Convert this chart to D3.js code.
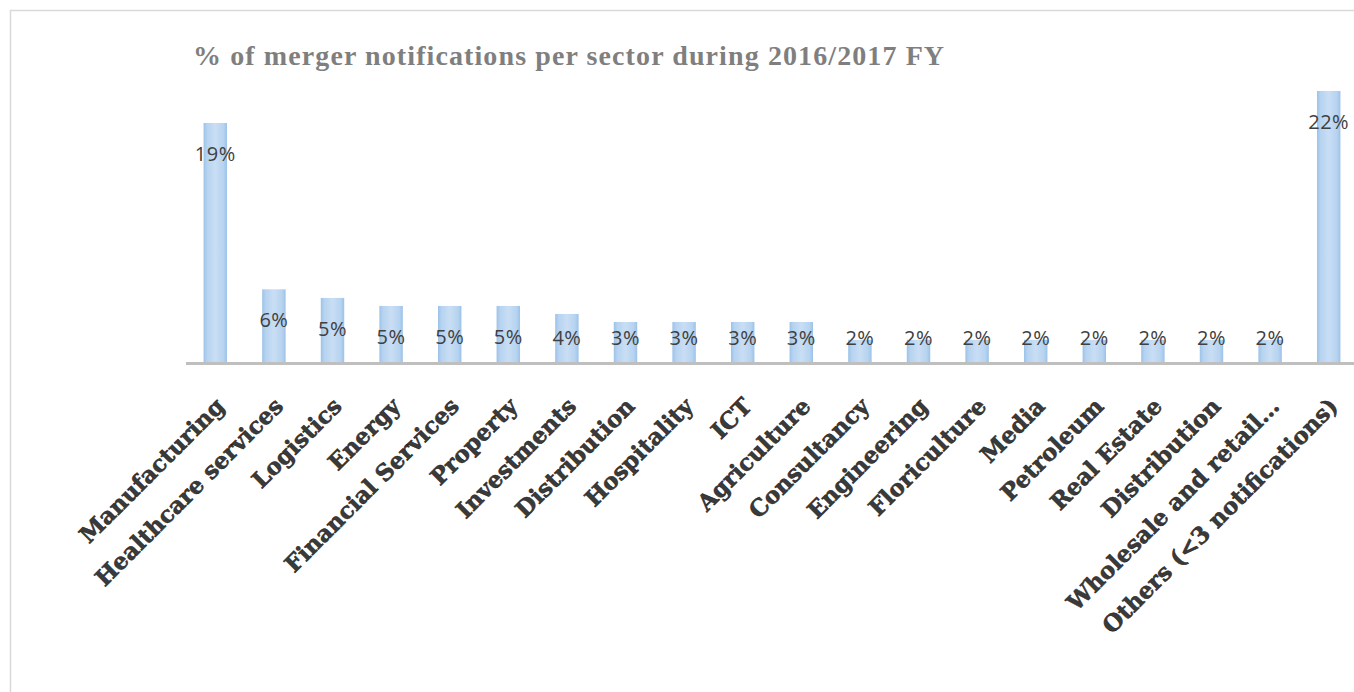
<!DOCTYPE html>
<html>
<head>
<meta charset="utf-8">
<script src="https://cdn.jsdelivr.net/npm/d3@7"></script>
<style>
    html, body { margin: 0; padding: 0; background: #fff; }
    svg { display: block; }
</style>
</head>
<body>
<div id="chart"></div>
<script>
// data
var categories = ['Manufacturing', 'Healthcare services', 'Logistics', 'Energy', 'Financial Services',
    'Property', 'Investments', 'Distribution', 'Hospitality', 'ICT', 'Agriculture', 'Consultancy',
    'Engineering', 'Floriculture', 'Media', 'Petroleum', 'Real Estate', 'Distribution',
    'Wholesale and retail\u2026', 'Others (<3 notifications)'];
var shares = [19.4, 5.9, 5.2, 4.55, 4.55, 4.55, 3.9, 3.25, 3.25, 3.25, 3.25, 1.8,
    1.8, 1.8, 1.8, 1.8, 1.8, 1.8, 1.8, 22.0];
var title = '% of merger notifications per sector during 2016/2017 FY';

var width = 1354,
    height = 692,
    base = 362;

var svg = d3.select('#chart').append('svg')
    .attr('width', width)
    .attr('height', height);

// bar gradient
var grad = svg.append('defs').append('linearGradient')
    .attr('id', 'barFill')
    .attr('x1', '0%').attr('x2', '100%')
    .attr('y1', '0%').attr('y2', '0%');
grad.append('stop').attr('offset', '0%').attr('stop-color', '#9cc2e8');
grad.append('stop').attr('offset', '15%').attr('stop-color', '#b6d3f0');
grad.append('stop').attr('offset', '50%').attr('stop-color', '#c9def4');
grad.append('stop').attr('offset', '85%').attr('stop-color', '#b6d3f0');
grad.append('stop').attr('offset', '100%').attr('stop-color', '#9cc2e8');

// frame
svg.append('rect')
    .attr('x', 10.5).attr('y', 10.5)
    .attr('width', 1400).attr('height', 700)
    .attr('fill', 'none')
    .attr('stroke', '#d9d9d9')
    .attr('stroke-width', 1.5);

svg.append('text')
    .attr('x', 193)
    .attr('y', 65)
    .attr('fill', '#7f7f7f')
    .style('font-family', '"Liberation Serif", serif')
    .style('font-weight', 'bold')
    .style('font-size', '28px')
    .style('letter-spacing', '1.1px')
    .text(title);

var x = d3.scaleBand()
    .domain(d3.range(categories.length))
    .range([186, 1358])
    .paddingInner(0.6)
    .paddingOuter(0.3);

var y = d3.scaleLinear()
    .domain([0, 25])
    .range([base, base - 25 * 12.32]);

svg.selectAll('.bar')
    .data(shares)
    .enter().append('rect')
    .attr('class', 'bar')
    .attr('x', function(d, i) { return x(i); })
    .attr('y', function(d) { return y(d); })
    .attr('width', x.bandwidth())
    .attr('height', function(d) { return y(0) - y(d); })
    .attr('fill', 'url(#barFill)');

// axis line
svg.append('line')
    .attr('x1', 186).attr('x2', width)
    .attr('y1', base + 1.5).attr('y2', base + 1.5)
    .attr('stroke', '#bfbfbf')
    .attr('stroke-width', 3);

// value labels
svg.selectAll('.val')
    .data(shares)
    .enter().append('text')
    .attr('class', 'val')
    .attr('x', function(d, i) { return x(i) + x.bandwidth() / 2; })
    .attr('y', function(d) { return Math.min(y(d) + 31, 338); })
    .attr('dy', '0.35em')
    .attr('text-anchor', 'middle')
    .attr('fill', '#404040')
    .style('font-family', '"Open Sans", sans-serif')
    .style('font-size', '20px')
    .style('letter-spacing', '0.5px')
    .text(function(d) { return Math.round(d) + '%'; });

// category labels
svg.selectAll('.cat')
    .data(categories)
    .enter().append('text')
    .attr('class', 'cat')
    .attr('transform', function(d, i) {
        return 'translate(' + (x(i) + x.bandwidth() / 2 + 5) + ',' + 402 + ') rotate(-45)';
    })
    .attr('dy', '0.35em')
    .attr('text-anchor', 'end')
    .attr('fill', '#3a3a3a')
    .attr('stroke', '#1a1a1a')
    .attr('stroke-width', 0.5)
    .style('font-family', '"DejaVu Serif", serif')
    .style('font-weight', 'bold')
    .style('font-size', '23px')
    .text(function(d) { return d; });
</script>
</body>
</html>
